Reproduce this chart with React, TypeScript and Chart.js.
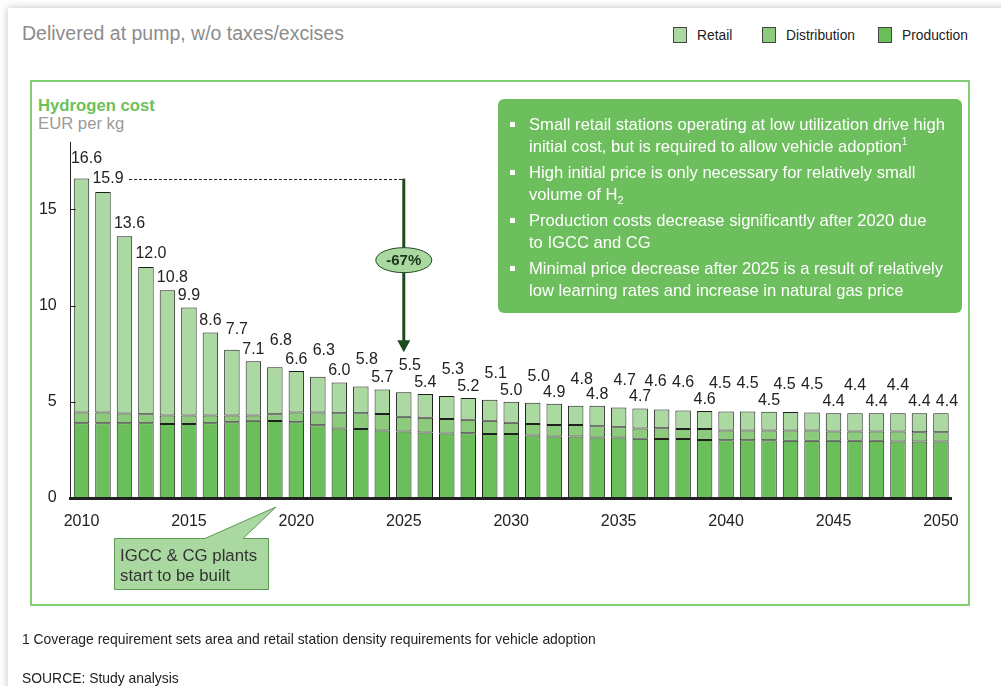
import React, { useEffect, useRef } from "react";
import { Chart, registerables } from "chart.js";

Chart.register(...registerables);

const YEARS = [
  2010, 2011, 2012, 2013, 2014, 2015, 2016, 2017, 2018, 2019,
  2020, 2021, 2022, 2023, 2024, 2025, 2026, 2027, 2028, 2029,
  2030, 2031, 2032, 2033, 2034, 2035, 2036, 2037, 2038, 2039,
  2040, 2041, 2042, 2043, 2044, 2045, 2046, 2047, 2048, 2049, 2050,
];

const TOTAL_LABELS = [
  16.6, 15.9, 13.6, 12.0, 10.8, 9.9, 8.6, 7.7, 7.1, 6.8,
  6.6, 6.3, 6.0, 5.8, 5.7, 5.5, 5.4, 5.3, 5.2, 5.1,
  5.0, 5.0, 4.9, 4.8, 4.8, 4.7, 4.7, 4.6, 4.6, 4.6,
  4.5, 4.5, 4.5, 4.5, 4.5, 4.4, 4.4, 4.4, 4.4, 4.4, 4.4,
];

const PRODUCTION = [
  3.89, 3.89, 3.89, 3.89, 3.84, 3.84, 3.89, 3.94, 4.01, 4.0,
  3.94, 3.78, 3.61, 3.58, 3.51, 3.45, 3.4, 3.35, 3.37, 3.32,
  3.32, 3.25, 3.19, 3.19, 3.14, 3.14, 3.08, 3.06, 3.06, 3.02,
  3.0, 3.0, 3.0, 2.97, 2.97, 2.97, 2.97, 2.97, 2.93, 2.93, 2.93,
];

const DISTRIBUTION = [
  0.55, 0.55, 0.5, 0.46, 0.45, 0.45, 0.4, 0.35, 0.28, 0.35,
  0.5, 0.66, 0.79, 0.82, 0.85, 0.77, 0.77, 0.76, 0.69, 0.69,
  0.59, 0.6, 0.61, 0.61, 0.59, 0.54, 0.53, 0.57, 0.52, 0.56,
  0.51, 0.51, 0.51, 0.54, 0.54, 0.48, 0.48, 0.48, 0.52, 0.49, 0.49,
];

const RETAIL = [
  12.16, 11.46, 9.21, 7.65, 6.51, 5.61, 4.31, 3.41, 2.81, 2.45,
  2.16, 1.86, 1.6, 1.4, 1.28, 1.28, 1.23, 1.19, 1.14, 1.09,
  1.09, 1.1, 1.1, 1.0, 1.07, 1.02, 1.04, 0.97, 0.97, 0.94,
  0.99, 0.99, 0.97, 0.96, 0.93, 0.95, 0.95, 0.95, 0.95, 0.98, 0.98,
];

const Y_TICKS = [0, 5, 10, 15];
const X_TICK_YEARS = [2010, 2015, 2020, 2025, 2030, 2035, 2040, 2045, 2050];
const ARROW_FROM_YEAR = 2010;
const ARROW_TO_YEAR = 2025;
const CHANGE_LABEL = "-67%";

// label placement tier per bar
// M mid, S side, L low, l low-right, H high-right, h high-left, K high-centred
const LABEL_TIERS = "MSSSSLLML" + "HLHLHLHLHLHLHLHLHL" + "hKLhKLhKLKLKLl";
const TIER_STYLE: Record<string, { dx: number; gap: number }> = {
  M: { dx: 5, gap: 12 },
  S: { dx: 5, gap: 5 },
  L: { dx: 0, gap: 3.5 },
  l: { dx: 6, gap: 3.5 },
  H: { dx: 6, gap: 18.5 },
  h: { dx: -6, gap: 19.5 },
  K: { dx: 0, gap: 19.5 },
};

const FONT = '"Liberation Sans", Arial, Helvetica, sans-serif';

const COLORS = {
  retail: "#acd9a2",
  distribution: "#8dcb7c",
  production: "#6bbf5a",
  border: "#1f1f1f",
  arrow: "#1d4a1d",
};

const overlayPlugin = {
  id: "overlay",
  afterDatasetsDraw(chart: any) {
    const ctx = chart.ctx;
    const yScale = chart.scales.y;
    const area = chart.chartArea;
    const top = chart.getDatasetMeta(2);
    ctx.save();

    // inward y tick marks
    ctx.strokeStyle = "#222";
    ctx.lineWidth = 1;
    Y_TICKS.forEach((v) => {
      if (v === 0) return;
      const py = Math.round(yScale.getPixelForValue(v)) + 0.5;
      ctx.beginPath();
      ctx.moveTo(area.left, py);
      ctx.lineTo(area.left + 5, py);
      ctx.stroke();
    });

    // value labels
    ctx.font = `16px ${FONT}`;
    ctx.fillStyle = "#222";
    ctx.textAlign = "center";
    ctx.textBaseline = "middle";
    TOTAL_LABELS.forEach((v, i) => {
      const el = top.data[i];
      const st = TIER_STYLE[LABEL_TIERS[i]] || TIER_STYLE.L;
      ctx.fillText(v.toFixed(1), el.x + st.dx, el.y - st.gap - 8);
    });

    // dashed reference line and arrow
    const i0 = YEARS.indexOf(ARROW_FROM_YEAR);
    const i1 = YEARS.indexOf(ARROW_TO_YEAR);
    const yTop = top.data[i0].y;
    const ax = top.data[i1].x;
    const tip = top.data[i1].y - 40;
    ctx.setLineDash([3, 2]);
    ctx.strokeStyle = "#222";
    ctx.lineWidth = 1;
    ctx.beginPath();
    ctx.moveTo(top.data[i0 + 1].x + 26, Math.round(yTop) + 0.5);
    ctx.lineTo(ax, Math.round(yTop) + 0.5);
    ctx.stroke();
    ctx.setLineDash([]);

    ctx.strokeStyle = COLORS.arrow;
    ctx.fillStyle = COLORS.arrow;
    ctx.lineWidth = 3;
    ctx.beginPath();
    ctx.moveTo(ax, yTop);
    ctx.lineTo(ax, tip - 10);
    ctx.stroke();
    ctx.beginPath();
    ctx.moveTo(ax - 6.5, tip - 12);
    ctx.lineTo(ax + 6.5, tip - 12);
    ctx.lineTo(ax, tip);
    ctx.closePath();
    ctx.fill();

    const ey = yTop + (tip - yTop) * 0.47;
    ctx.beginPath();
    ctx.ellipse(ax, ey, 28, 12.5, 0, 0, Math.PI * 2);
    ctx.fillStyle = "#a9d9a0";
    ctx.fill();
    ctx.lineWidth = 1;
    ctx.strokeStyle = COLORS.arrow;
    ctx.stroke();
    ctx.fillStyle = "#1a331a";
    ctx.font = `bold 15px ${FONT}`;
    ctx.fillText(CHANGE_LABEL, ax, ey + 1);

    ctx.restore();
  },
};

function LegendItem({ left, color, label }: { left: number; color: string; label: string }) {
  return (
    <div style={{ position: "absolute", left, top: 27, height: 16, display: "flex", alignItems: "center" }}>
      <div
        style={{
          width: 12,
          height: 14,
          background: color,
          border: "1px solid #444",
          marginRight: 10,
        }}
      />
      <span style={{ fontSize: 13.8, color: "#222", whiteSpace: "nowrap" }}>{label}</span>
    </div>
  );
}

const bulletStyle: React.CSSProperties = {
  position: "relative",
  paddingLeft: 31,
  marginBottom: 5,
  whiteSpace: "nowrap",
};

function Bullet({ children }: { children: React.ReactNode }) {
  return (
    <div style={bulletStyle}>
      <span
        style={{
          position: "absolute",
          left: 12,
          top: 8,
          width: 5,
          height: 5,
          background: "#fff",
        }}
      />
      {children}
    </div>
  );
}

export default function App() {
  const canvasRef = useRef<HTMLCanvasElement | null>(null);

  useEffect(() => {
    document.body.style.margin = "0";
    const canvas = canvasRef.current;
    if (!canvas) return;
    const chart = new Chart(canvas, {
      type: "bar",
      data: {
        labels: YEARS.map(String),
        datasets: [
          {
            label: "Production",
            data: PRODUCTION,
            backgroundColor: COLORS.production,
            borderColor: COLORS.border,
            borderWidth: 1,
            borderSkipped: false,
          },
          {
            label: "Distribution",
            data: DISTRIBUTION,
            backgroundColor: COLORS.distribution,
            borderColor: COLORS.border,
            borderWidth: 1,
            borderSkipped: false,
          },
          {
            label: "Retail",
            data: RETAIL,
            backgroundColor: COLORS.retail,
            borderColor: COLORS.border,
            borderWidth: 1,
            borderSkipped: false,
          },
        ],
      },
      options: {
        responsive: false,
        animation: false,
        devicePixelRatio: 1,
        layout: { padding: { left: 0, top: 142, right: 49.3, bottom: 148 } },
        datasets: { bar: { barPercentage: 0.72, categoryPercentage: 1 } },
        plugins: { legend: { display: false }, tooltip: { enabled: false } },
        scales: {
          x: {
            stacked: true,
            grid: { display: false, drawTicks: false },
            border: { display: true, color: "#222", width: 3 },
            ticks: {
              autoSkip: false,
              maxRotation: 0,
              padding: 14,
              color: "#222",
              font: { family: FONT, size: 16 },
              callback: (_v: any, idx: number) =>
                X_TICK_YEARS.includes(YEARS[idx]) ? String(YEARS[idx]) : "",
            },
            afterFit: (s: any) => {
              s.height = 40;
            },
          },
          y: {
            stacked: true,
            min: 0,
            max: 18.5,
            grid: { display: false, drawTicks: false },
            border: { display: true, color: "#222", width: 1 },
            ticks: {
              stepSize: 5,
              includeBounds: false,
              padding: 14,
              color: "#222",
              font: { family: FONT, size: 16 },
              callback: (v: any) => (Y_TICKS.includes(Number(v)) ? String(v) : ""),
            },
            afterFit: (s: any) => {
              s.width = 70.75;
            },
          },
        },
      },
      plugins: [overlayPlugin],
    } as any);
    return () => chart.destroy();
  }, []);

  return (
    <div
      style={{
        position: "fixed",
        left: 0,
        top: 0,
        width: 1001,
        height: 686,
        overflow: "hidden",
        background: "#fff",
        fontFamily: FONT,
      }}
    >
      <div
        style={{
          position: "absolute",
          left: 8,
          top: 8,
          width: 1100,
          height: 800,
          background: "#fff",
          boxShadow: "0 0 8px rgba(0,0,0,0.25)",
        }}
      />
      <div
        style={{
          position: "absolute",
          left: 22,
          top: 21,
          fontSize: 19.5,
          lineHeight: "24px",
          color: "#8c8c8c",
          whiteSpace: "nowrap",
        }}
      >
        Delivered at pump, w/o taxes/excises
      </div>
      <LegendItem left={673} color={COLORS.retail} label="Retail" />
      <LegendItem left={762} color={COLORS.distribution} label="Distribution" />
      <LegendItem left={878} color={COLORS.production} label="Production" />

      <div
        style={{
          position: "absolute",
          left: 30,
          top: 80,
          width: 940,
          height: 526,
          boxSizing: "border-box",
          border: "2px solid #84cf73",
        }}
      />
      <div
        style={{
          position: "absolute",
          left: 38,
          top: 96,
          fontSize: 16.7,
          lineHeight: "20px",
          fontWeight: "bold",
          color: "#6cc05a",
          whiteSpace: "nowrap",
        }}
      >
        Hydrogen cost
      </div>
      <div
        style={{
          position: "absolute",
          left: 38,
          top: 114,
          fontSize: 16.7,
          lineHeight: "20px",
          color: "#9a9a9a",
          whiteSpace: "nowrap",
        }}
      >
        EUR per kg
      </div>

      <canvas
        ref={canvasRef}
        width={1001}
        height={686}
        style={{ position: "absolute", left: 0, top: 0, width: 1001, height: 686 }}
      />

      <div
        style={{
          position: "absolute",
          left: 498,
          top: 99,
          width: 464,
          height: 214,
          boxSizing: "border-box",
          background: "#6cbf5c",
          borderRadius: 6,
          color: "#fff",
          fontSize: 16.6,
          lineHeight: "21.5px",
          paddingTop: 15,
        }}
      >
        <Bullet>
          Small retail stations operating at low utilization drive high
          <br />
          initial cost, but is required to allow vehicle adoption
          <sup style={{ fontSize: 10, lineHeight: 0 }}>1</sup>
        </Bullet>
        <Bullet>
          High initial price is only necessary for relatively small
          <br />
          volume of H<sub style={{ fontSize: 11, lineHeight: 0 }}>2</sub>
        </Bullet>
        <Bullet>
          Production costs decrease significantly after 2020 due
          <br />
          to IGCC and CG
        </Bullet>
        <Bullet>
          Minimal price decrease after 2025 is a result of relatively
          <br />
          low learning rates and increase in natural gas price
        </Bullet>
      </div>

      <svg
        width={1001}
        height={686}
        style={{ position: "absolute", left: 0, top: 0, pointerEvents: "none" }}
      >
        <polygon
          points="114.5,538.5 205,538.5 276,507 243,538.5 268.5,538.5 268.5,589.5 114.5,589.5"
          fill="#a9d9a0"
          stroke="#5e9656"
          strokeWidth={1}
        />
        <text x={120} y={561} fontSize={16.8} fill="#333" fontFamily={FONT}>
          IGCC &amp; CG plants
        </text>
        <text x={120} y={581} fontSize={16.8} fill="#333" fontFamily={FONT}>
          start to be built
        </text>
      </svg>

      <div
        style={{
          position: "absolute",
          left: 22,
          top: 631,
          fontSize: 13.9,
          lineHeight: "16px",
          color: "#222",
          whiteSpace: "nowrap",
        }}
      >
        1 Coverage requirement sets area and retail station density requirements for vehicle adoption
      </div>
      <div
        style={{
          position: "absolute",
          left: 22,
          top: 670,
          fontSize: 13.9,
          lineHeight: "16px",
          color: "#222",
          whiteSpace: "nowrap",
        }}
      >
        SOURCE: Study analysis
      </div>
    </div>
  );
}
